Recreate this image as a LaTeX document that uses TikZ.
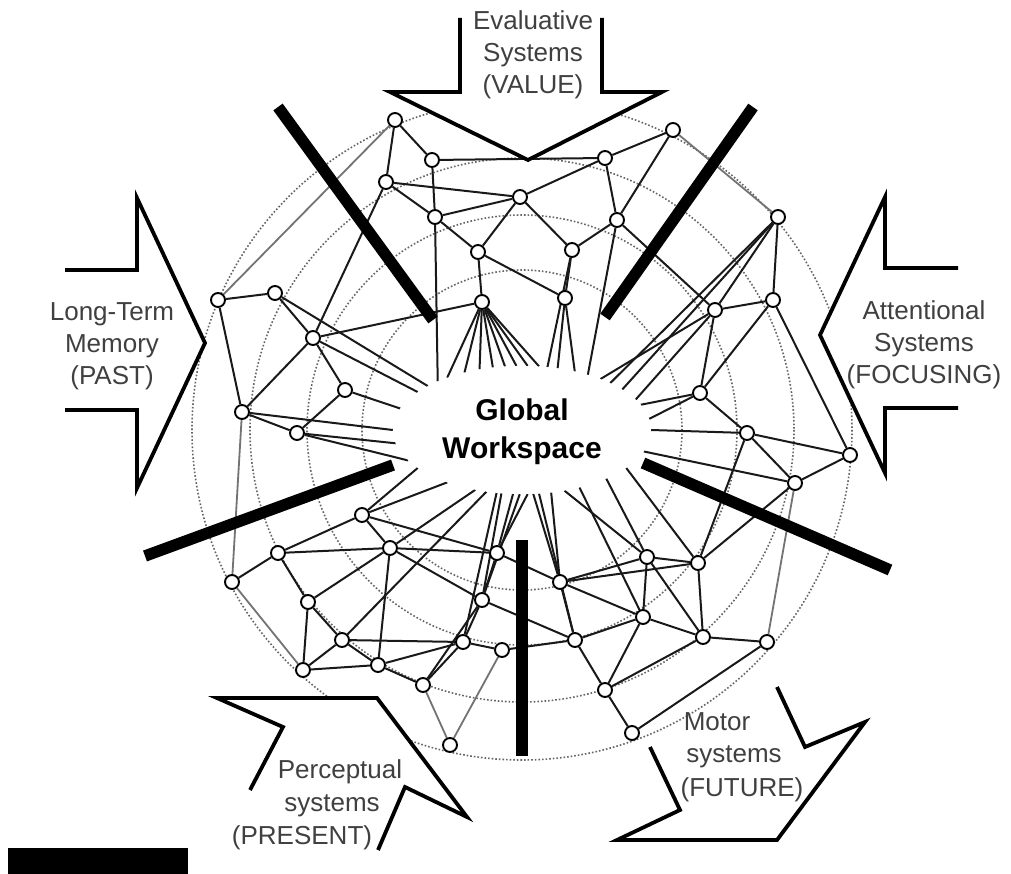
\documentclass[tikz,border=0pt]{standalone}
\usepackage{fontspec}
\newfontfamily\lab{Liberation Sans}
\usetikzlibrary{shapes.geometric}
\pgfdeclarelayer{bg}
\pgfdeclarelayer{edges}
\pgfsetlayers{bg,edges,main}
\begin{document}
\begin{tikzpicture}[x=1pt,y=-1pt,
  gn/.style={circle,draw,fill=white,line width=1.9pt,minimum size=14pt,inner sep=0pt},
  edge/.style={line width=2pt,black!90},
  gedge/.style={line width=1.8pt,black!55},
  ring/.style={dotted,line width=1.6pt,black!60},
  bar/.style={line width=11.5pt,black},
  blockarrow/.style={line width=3.8pt,fill=white,line join=miter},
  lbl/.style={font=\lab\fontsize{26}{32}\selectfont,text=black!75,inner sep=0pt,align=center}]
\begin{pgfonlayer}{bg}
\fill[white] (0,0) rectangle (1011,874);
\foreach \r in {330,272,215,160} \draw[ring] (522,430) circle[radius=\r];
\end{pgfonlayer}
\useasboundingbox (0,0) rectangle (1011,874);

% workspace
\node[ellipse,minimum width=258pt,minimum height=128pt,fill=white,inner sep=0pt] (ws) at (522,430) {};

% network nodes
\foreach \n/\x/\y in {
 a1/395/120, a2/432/160, a3/386/182, a4/435/217, a5/520/197, a6/605/158,
 a7/673/130, a8/617/220, a9/478/252, a10/572/250, hub/482/302, a11/565/298,
 c1/218/300, c2/275/293, c3/313/338, c4/345/390, c5/242/412, c6/297/433,
 d1/778/217, d2/715/310, d3/773/300, d4/700/393, d5/747/433, d6/850/455, d7/795/483,
 f1/362/515, f2/390/548, f3/278/553, f4/232/582, f5/308/602, f6/342/640,
 f7/303/670, f8/378/665, f9/423/685, f10/463/642, f11/450/745,
 f13/497/553, f14/482/600, f15/502/650,
 g1/647/557, g2/698/563, g3/643/617, g4/575/640, g5/703/637, g6/767/642,
 g7/605/690, g8/632/733, g9/560/582}
 \node[gn] (\n) at (\x,\y) {};

\begin{pgfonlayer}{edges}
\foreach \u/\v in {
 a1/a2, a1/a3, a2/a4, a3/a4, a3/a5, a4/a5, a4/a9, a5/a9, a9/hub, a2/a6,
 a5/a6, a6/a7, a6/a8, a7/a8, a5/a10, a8/a10, a10/a11, a9/a11, a8/d2, hub/c3,
 c1/c2, c1/c5, c2/c3, c3/c4, c3/c5, c4/c6, c5/c6, a3/c3,
 d1/d2, d1/d3, d2/d3, d2/d4, d3/d4, d4/d5, d5/d6, d5/d7, d6/d7, d3/d6,
 f4/f3, f3/f2, f3/f5, f5/f6, f5/f7, f5/f2, f6/f7, f6/f8, f7/f8,
 f8/f9, f8/f2, f9/f10, f10/f15, f10/f14, f14/f13, f1/f2, f3/f1, f9/f14,
 f1/f13, f2/f14, f6/f10, f13/g9, f14/g4, f15/g4, f2/f13, f8/f10,
 g1/g2, g1/g3, g1/g5, g2/g5, g3/g4, g3/g7, g4/g7, g5/g6, g5/g7, g7/g8,
 g6/g8, g9/g4, g9/g3, g2/d7, d5/g2, g9/g1, g3/g5, g9/g2}
 \draw[edge] (\u) -- (\v);
\foreach \u/\v in {a7/d1, c5/f4, f4/f7, f9/f11, f15/f11, a1/c1, g6/d7}
 \draw[gedge] (\u) -- (\v);
\foreach \u/\a in {
 hub/75, hub/85, hub/95, hub/105, hub/115, hub/125, hub/135, hub/145,
 a11/60, a11/48, a10/68, a8/40, d1/28, d1/22, d2/33, d4/12, d5/0, d7/350,
 g1/330, g2/340, g3/315, g9/295, g4/285, f13/262, f14/252, f10/248,
 f1/215, f2/232, f6/240, c3/160, c4/170, c6/186, c5/180, c2/155, a4/150,
 d2/15, d4/5, g1/305, f13/275, f1/200, c6/195, f14/268, g9/280}
 \draw[edge] (\u) -- (ws.\a);
\end{pgfonlayer}

% thick dividers
\draw[bar] (278,107) -- (433,320);
\draw[bar] (753,107) -- (605,317);
\draw[bar] (393,465) -- (145,556);
\draw[bar] (643,463) -- (890,570);
\draw[bar] (522,540) -- (522,756);

% block arrows
\filldraw[blockarrow] (460,18) -- (460,92) -- (390,92) -- (528,160) -- (662,92) -- (602,92) -- (602,18);
\filldraw[blockarrow] (65,270) -- (137,270) -- (137,198) -- (205,343) -- (137,488) -- (137,410) -- (65,410);
\filldraw[blockarrow] (958,268) -- (885,268) -- (885,197) -- (820,335) -- (885,473) -- (885,408) -- (958,408);
\filldraw[blockarrow] (250,790) -- (283,727) -- (217,698) -- (377,698) -- (467,817) -- (405,787) -- (378,850);
\filldraw[blockarrow] (777,687) -- (805,747) -- (865,722) -- (777,840) -- (617,840) -- (680,810) -- (650,747);

% labels
\node[lbl] (lval) at (533,55) {Evaluative\\Systems\\(VALUE)};
\node[lbl] (lpast) at (112,346) {Long-Term\\Memory\\(PAST)};
\node[lbl] (lfoc) at (924,345) {Attentional\\Systems\\(FOCUSING)};
\node[lbl] (lp1) at (340,772) {Perceptual};
\node[lbl] (lp2) at (332,806) {systems};
\node[lbl] (lp3) at (302,838) {(PRESENT)};
\node[lbl] (lm1) at (717,722) {Motor};
\node[lbl] (lm2) at (734,757) {systems};
\node[lbl] (lm3) at (742,790) {(FUTURE)};
\node[font=\lab\bfseries\fontsize{30}{38}\selectfont,align=center,inner sep=0pt] (wst) at (522,432) {Global\\Workspace};

% black bar bottom left
\fill[black] (8,848) rectangle (188,874);
\end{tikzpicture}
\end{document}
